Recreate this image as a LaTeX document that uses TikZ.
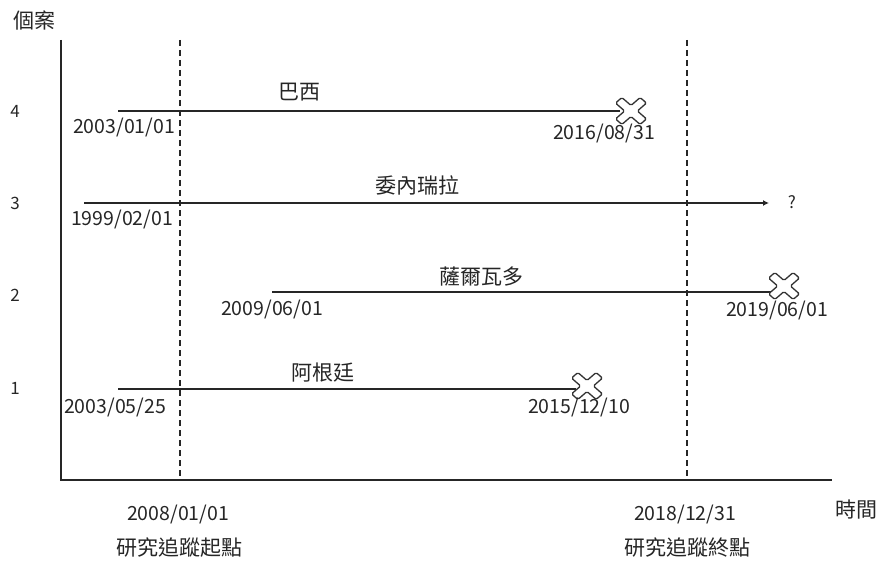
\documentclass[tikz,border=0pt]{standalone}
\usepackage{fontspec}
\setmainfont{Noto Sans CJK TC}
\usetikzlibrary{arrows.meta}
\tikzset{
  axisline/.style={line width=1.4bp, black!85},
  guideline/.style={line width=1.2bp, black!85, dash pattern=on 6bp off 4bp},
  caseline/.style={line width=1.4bp, black!85},
  lbl/.style={inner sep=0pt, font=\fontsize{19.5bp}{21bp}\selectfont, text=black!85},
  num/.style={inner sep=0pt, font=\fontsize{17bp}{19bp}\selectfont, text=black!85},
  cjk/.style={inner sep=0pt, font=\fontsize{21bp}{23bp}\selectfont, text=black!85},
  xmark/.pic={
    \draw[line width=1.3bp, black!80, fill=white, rounded corners=1.5bp, yscale=0.87, rotate=45]
      (4.5,17.4) -- (4.5,4.5) -- (17.4,4.5) -- (17.4,-4.5) -- (4.5,-4.5) -- (4.5,-17.4)
      -- (-4.5,-17.4) -- (-4.5,-4.5) -- (-17.4,-4.5) -- (-17.4,4.5) -- (-4.5,4.5) -- (-4.5,17.4) -- cycle;
  }
}
\begin{document}
\begin{tikzpicture}[x=1bp, y=-1bp]
\useasboundingbox (0,0) rectangle (879,561);
% axes
\coordinate (ytop) at (61,40);
\coordinate (origin) at (61,480);
\coordinate (xend) at (832,480);
\draw[axisline] (ytop) -- (origin) -- (xend);
% guide lines
\coordinate (s1) at (180,40); \coordinate (s2) at (180,480);
\coordinate (e1) at (687,40); \coordinate (e2) at (687,480);
\draw[guideline] (s1) -- (s2);
\draw[guideline] (e1) -- (e2);
% axis labels
\node[cjk] (ylab) at (34,21) {個案};
\node[cjk] (xlab) at (856,510) {時間};
\node[lbl] (sdate) at (178,515) {2008/01/01};
\node[cjk] (stext) at (179,548) {研究追蹤起點};
\node[lbl] (edate) at (685,515) {2018/12/31};
\node[cjk] (etext) at (687,548) {研究追蹤終點};
% row numbers
\node[num] (r4) at (15,111) {4};
\node[num] (r3) at (15,203) {3};
\node[num] (r2) at (15,295) {2};
\node[num] (r1) at (15,388) {1};
% row 4 Brazil
\coordinate (a4) at (118,111);
\coordinate (b4) at (620,111);
\draw[caseline] (a4) -- (b4);
\pic at (631,111) {xmark};
\node[cjk] (n4) at (299,92) {巴西};
\node[lbl] (d4a) at (124,128) {2003/01/01};
\node[lbl] (d4b) at (604,134) {2016/08/31};
% row 3 Venezuela
\coordinate (a3) at (84,203);
\coordinate (b3) at (769,203);
\draw[caseline, -{Latex[length=6bp, width=6bp]}] (a3) -- (b3);
\node[num] (q3) at (792,202) {?};
\node[cjk] (n3) at (417,185) {委內瑞拉};
\node[lbl] (d3a) at (122,220) {1999/02/01};
% row 2 El Salvador
\coordinate (a2) at (272,292);
\coordinate (b2) at (771,292);
\draw[caseline] (a2) -- (b2);
\pic at (784,286) {xmark};
\node[cjk] (n2) at (481,277) {薩爾瓦多};
\node[lbl] (d2a) at (272,310) {2009/06/01};
\node[lbl] (d2b) at (777,311) {2019/06/01};
% row 1 Argentina
\coordinate (a1) at (118,389);
\coordinate (b1) at (576,389);
\draw[caseline] (a1) -- (b1);
\pic at (587,386) {xmark};
\node[cjk] (n1) at (323,373) {阿根廷};
\node[lbl] (d1a) at (115,408) {2003/05/25};
\node[lbl] (d1b) at (579,408) {2015/12/10};
\end{tikzpicture}
\end{document}
